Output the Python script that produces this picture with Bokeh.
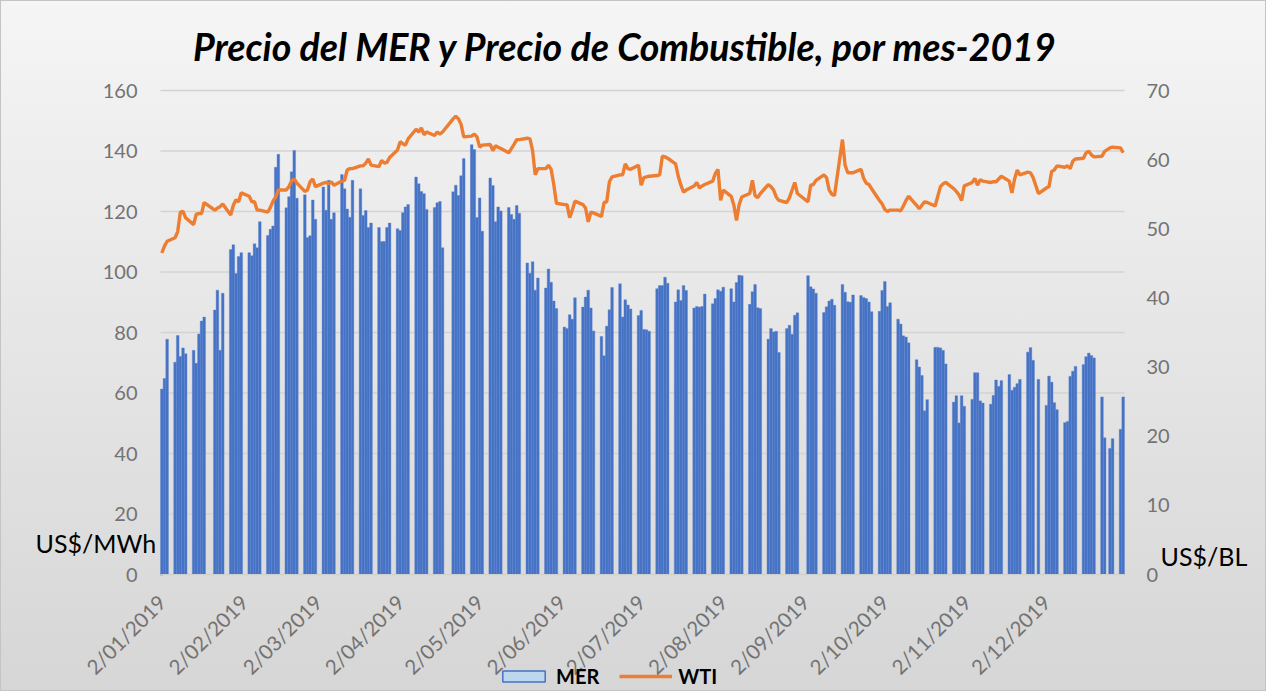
import math
import pandas as pd
from bokeh.plotting import figure
from bokeh.models import (Range1d, LinearAxis, FixedTicker, Label, Legend,
                          LegendItem, ColumnDataSource)
from bokeh.embed import file_html
from bokeh.resources import INLINE

# ---------------- data ----------------
holidays = ["2019-01-21", "2019-04-19", "2019-09-02", "2019-11-28", "2019-12-25"]
dates = [d for d in pd.bdate_range("2019-01-02", "2019-12-31")
         if d.strftime("%Y-%m-%d") not in holidays]

mer = [
    61.3, 64.8, 77.8,
    70.2, 79.0, 72.1, 74.9, 73.0,
    74.1, 69.8, 79.5, 83.8, 85.1,
    87.4, 94.0, 74.1, 93.0,
    107.4, 109.0, 99.5, 105.1, 106.4,
    106.4, 105.4, 109.3, 108.0, 116.6,
    112.1, 114.1, 115.2, 134.6, 138.9,
    121.2, 124.9, 133.1, 140.2, 124.4,
    125.5, 111.4, 112.0, 123.8, 117.4,
    128.1, 120.4, 130.3, 117.4, 119.6,
    132.2, 127.5, 120.8, 118.1, 130.3,
    127.5, 118.7, 120.3, 114.7, 116.2,
    114.7, 110.1, 110.1, 114.7, 116.2,
    114.3, 113.7, 119.6, 121.5, 122.3,
    131.4, 129.2, 126.6, 125.9, 120.7,
    121.3, 122.9, 123.3, 108.0,
    126.5, 128.7, 125.3, 131.8, 137.5,
    142.1, 140.5, 118.0, 124.5, 113.5,
    131.1, 128.6, 116.6, 121.5, 120.2,
    121.3, 119.0, 117.4, 122.0, 119.4,
    103.0, 99.6, 103.4, 94.0, 98.0,
    94.7, 101.0, 96.6, 90.4, 87.9,
    81.8, 81.3, 85.9, 84.4, 91.5,
    88.4, 91.7, 94.0, 88.1, 80.5,
    78.7, 72.3, 82.1, 87.5, 94.9,
    96.1, 85.1, 90.8, 89.1, 87.8,
    85.6, 87.3, 81.0, 80.9, 80.4,
    94.5, 95.5, 95.5, 98.3, 96.3,
    90.1, 94.1, 90.6, 95.5, 93.9,
    88.1, 88.6, 88.4, 88.6, 92.7,
    89.5, 91.2, 94.1, 93.6, 95.0,
    94.5, 90.1, 96.5, 98.9, 98.8,
    89.3, 93.5, 95.9, 88.2, 87.9,
    77.8, 81.3, 80.2, 80.4, 73.4,
    81.3, 82.4, 79.4, 85.7, 86.5,
    98.8, 95.1, 94.4, 93.0,
    86.6, 88.5, 90.4, 91.0, 89.0,
    95.9, 93.3, 90.2, 90.0, 92.4,
    92.2, 91.6, 91.2, 90.1, 86.9,
    87.0, 93.9, 96.9, 88.6, 89.8,
    84.4, 82.8, 78.9, 78.5, 76.6,
    71.0, 68.6, 65.8, 54.1, 57.8,
    75.1, 75.1, 74.9, 74.1, 69.6,
    57.0, 59.1, 50.1, 59.1, 55.6,
    57.9, 66.7, 66.7, 57.4, 56.7,
    56.3, 59.2, 64.3, 62.2, 64.1,
    66.1, 60.9, 61.9, 63.1, 64.5,
    73.5, 75.0, 70.8, 64.5,
    55.9, 65.6, 63.6, 56.8, 54.5,
    50.2, 50.6, 65.5, 67.2, 68.8,
    69.4, 72.0, 73.2, 72.4, 71.6,
    58.7, 45.2, 41.7, 44.9,
    48.0, 58.7,
]

wti = [
    46.5, 47.5, 48.2,
    48.7, 49.6, 52.4, 52.5, 51.6,
    50.6, 52.1, 52.2, 52.2, 53.8,
    52.7, 53.0, 53.2, 53.6,
    52.0, 53.4, 54.2, 53.9, 55.2,
    54.7, 53.9, 53.9, 52.7, 52.7,
    52.4, 53.1, 54.0, 54.6, 55.6,
    55.6, 56.1, 56.9, 57.2, 56.6,
    55.4, 55.6, 56.8, 57.2, 56.1,
    56.6, 56.7, 56.5, 56.8, 56.3,
    56.9, 57.0, 58.5, 58.7, 58.7,
    59.1, 59.1, 59.5, 60.1, 59.2,
    59.0, 59.9, 59.5, 59.6, 60.3,
    61.4, 62.6, 62.3, 62.1, 63.0,
    64.4, 64.0, 64.6, 63.6, 64.0,
    63.5, 64.0, 63.7, 64.0,
    65.9, 66.3, 65.9, 65.1, 63.3,
    63.4, 63.7, 63.3, 61.8, 62.1,
    62.2, 61.3, 62.0, 61.8, 61.6,
    61.0, 61.6, 62.2, 62.9, 62.9,
    63.1, 63.0, 61.3, 57.8, 58.7,
    58.7, 59.2, 58.6, 56.4, 53.7,
    53.5, 53.5, 51.6, 52.7, 54.0,
    53.5, 53.0, 51.0, 52.4, 52.3,
    51.8, 53.8, 53.9, 56.8, 57.5,
    57.8, 57.8, 59.4, 58.7, 58.6,
    59.2, 56.3, 57.4, 57.5, 57.6,
    57.7, 57.8, 60.5, 60.4, 60.2,
    59.4, 57.6, 56.3, 55.3, 55.6,
    56.2, 56.7, 55.9, 56.2, 56.4,
    56.9, 58.0, 58.6, 54.1, 55.6,
    54.7, 53.4, 51.2, 53.5, 54.6,
    55.1, 57.0, 54.8, 54.5, 55.1,
    56.4, 56.1, 55.6, 54.6, 54.1,
    53.8, 54.5, 55.6, 56.7, 55.1,
    53.9, 56.3, 56.4, 57.0,
    57.8, 57.4, 55.6, 55.0, 54.8,
    62.9, 59.2, 58.1, 58.1, 58.1,
    58.6, 57.3, 56.6, 56.4, 55.8,
    54.1, 53.6, 52.8, 52.5, 52.7,
    52.7, 52.6, 53.3, 54.1, 54.7,
    53.4, 52.9, 53.4, 53.9, 53.8,
    53.3, 54.7, 56.1, 56.5, 56.7,
    55.8, 55.4, 54.9, 54.1, 56.2,
    56.7, 57.3, 56.3, 57.1, 56.9,
    56.7, 56.8, 56.8, 57.2, 57.6,
    56.9, 55.2, 57.2, 58.5, 57.8,
    58.2, 58.1, 57.4, 55.1,
    55.9, 56.1, 58.3, 58.5, 59.1,
    58.9, 59.1, 58.7, 59.8, 60.1,
    60.2, 61.0, 61.2, 60.7, 60.4,
    60.5, 61.2, 61.7, 61.8,
    61.7, 61.0,
]

tick_dates = [pd.Timestamp(2019, m, 2) for m in range(1, 13)]
tick_labels = ["2/%02d/2019" % m for m in range(1, 13)]
left_ticks = [0, 20, 40, 60, 80, 100, 120, 140, 160]
right_ticks = [0, 10, 20, 30, 40, 50, 60, 70]
LEFT_MAX, RIGHT_MAX = 160, 70

n = min(len(dates), len(mer), len(wti))
src = ColumnDataSource(dict(date=dates[:n], mer=mer[:n], wti=wti[:n]))

# ---------------- layout (pixels) ----------------
W, H = 1266, 691
PL, PR, PT, PB = 160, 1124, 90, 574      # plot area inside the canvas

day = pd.Timedelta(days=1)
d_first = pd.Timestamp("2019-01-02") - day / 2
d_last = pd.Timestamp("2019-12-31") + day / 2
ndays = (d_last - d_first) / day
px_day = (PR - PL) / ndays
x_start = d_first - day * (PL / px_day)
x_end = d_last + day * ((W - PR) / px_day)

ppu_l = (PB - PT) / LEFT_MAX
ppu_r = (PB - PT) / RIGHT_MAX
y_l = Range1d(-(H - PB) / ppu_l, LEFT_MAX + PT / ppu_l)
y_r = Range1d(-(H - PB) / ppu_r, RIGHT_MAX + PT / ppu_r)

ms = lambda t: t.value / 1e6
xl_ms, xr_ms = ms(d_first), ms(d_last)

FONT = "Lato"
GRAY = "#737373"

p = figure(width=W, height=H, x_axis_type="datetime",
           output_backend="svg", toolbar_location=None,
           x_range=Range1d(x_start, x_end), y_range=y_l,
           min_border=0)
p.border_fill_color = None
p.background_fill_color = None
p.outline_line_color = None
p.styles = {"background": "linear-gradient(to bottom, #f5f5f5, #d6d6d6)",
            "box-shadow": "inset 0 0 0 1px #c4c4c4"}
p.extra_y_ranges = {"wti": y_r}
p.xgrid.grid_line_color = None
p.ygrid.grid_line_color = None

# horizontal gridlines limited to the plot area
p.segment(x0=[xl_ms] * len(left_ticks), x1=[xr_ms] * len(left_ticks),
          y0=left_ticks, y1=left_ticks, line_color="#d3d3d3",
          line_width=1.6, level="underlay")

# legend swatch source (zero-height, hidden under the bars)
leg_dummy = p.vbar(x=[dates[0]], top=[0], bottom=[0], width=86400000.0,
                   fill_color="#BDD7EE", line_color="#4472C4",
                   line_width=1.5, level="underlay")

bars = p.vbar(x="date", top="mer", bottom=0, width=86400000.0, source=src,
              fill_color="#4472C4", line_color="#5f84cf", line_width=0.4)
line = p.line(x="date", y="wti", y_range_name="wti", source=src,
              line_color="#ED7D31", line_width=3.4)

# axes at fixed locations
ly = p.yaxis[0]
ly.ticker = FixedTicker(ticks=left_ticks)
ly.fixed_location = xl_ms
ry = LinearAxis(y_range_name="wti", ticker=FixedTicker(ticks=right_ticks))
ry.fixed_location = xr_ms
p.add_layout(ry, "right")
for ax in (ly, ry):
    ax.axis_line_color = None
    ax.major_tick_line_color = None
    ax.minor_tick_line_color = None
    ax.major_tick_out = 0
    ax.major_tick_in = 0
    ax.major_label_text_font = FONT
    ax.major_label_text_font_size = "20px"
    ax.major_label_text_color = GRAY
ly.major_label_standoff = 23
ry.major_label_standoff = 22

xa = p.xaxis[0]
xa.fixed_location = 0
tick_ms = [ms(t) for t in tick_dates]
xa.ticker = FixedTicker(ticks=tick_ms)
xa.major_label_overrides = {t: lab for t, lab in zip(tick_ms, tick_labels)}
xa.major_label_orientation = math.pi / 4
xa.major_label_text_font = FONT
xa.major_label_text_font_size = "20.5px"
xa.major_label_text_color = GRAY
xa.major_tick_line_color = None
xa.minor_tick_line_color = None
xa.major_tick_out = 0
xa.major_tick_in = 0
xa.major_label_standoff = 24
xa.axis_line_color = "#cfcfcf"
xa.bounds = (xl_ms, xr_ms)

# texts (screen units from the canvas bottom-left)
p.add_layout(Label(x=625, y=H - 46, x_units="screen", y_units="screen",
                   text="Precio del MER y Precio de Combustible, por mes-2019",
                   text_font=FONT, text_font_size="37.5px",
                   text_font_style="bold italic", text_color="black",
                   text_align="center", text_baseline="alphabetic"))
p.add_layout(Label(x=35, y=H - 542, x_units="screen", y_units="screen",
                   text="US$/MWh", text_font=FONT, text_font_size="25px",
                   text_color="black", text_baseline="alphabetic"))
p.add_layout(Label(x=1160, y=H - 555, x_units="screen", y_units="screen",
                   text="US$/BL", text_font=FONT, text_font_size="25px",
                   text_color="black", text_baseline="alphabetic"))

legend = Legend(items=[LegendItem(label="MER", renderers=[leg_dummy]),
                       LegendItem(label="WTI", renderers=[line])],
                orientation="horizontal", location=(497, 3),
                glyph_width=53, glyph_height=14, label_standoff=6,
                spacing=20, padding=0, margin=0,
                border_line_color=None, background_fill_alpha=0,
                label_text_font=FONT, label_text_font_style="bold",
                label_text_font_size="20px", label_text_color="black")
p.add_layout(legend, "center")

open("out.html", "w").write(file_html(p, INLINE))
